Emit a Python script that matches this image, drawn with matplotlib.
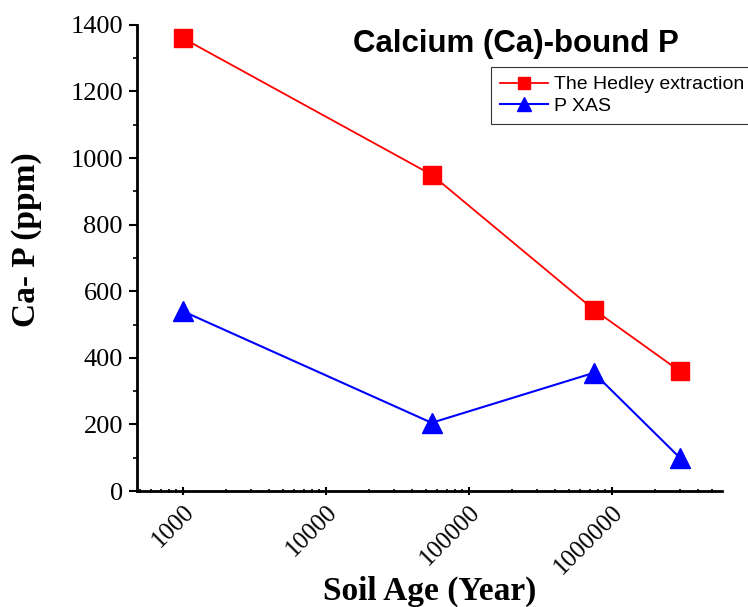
import matplotlib
matplotlib.use("Agg")
import matplotlib.pyplot as plt
from matplotlib.ticker import FixedLocator, LogLocator, MultipleLocator, NullFormatter

# soil ages (years) and Ca-bound P (ppm)
age = [1000, 55000, 750000, 3000000]
hedley = [1360, 950, 545, 360]
xas = [540, 205, 355, 100]
xtick_vals = [1000, 10000, 100000, 1000000]
xtick_labels = ["1000", "10000", "100000", "1000000"]

serif = ["Liberation Serif", "DejaVu Serif"]
sans = ["Liberation Sans", "DejaVu Sans"]

fig = plt.figure(figsize=(7.48, 6.07), dpi=100)
ax = fig.add_axes([0.183, 0.191, 0.782, 0.768])

ax.plot(age, hedley, color="red", lw=1.3, marker="s", ms=12.5, mec="red",
        label="The Hedley extraction")
ax.plot(age, xas, color="blue", lw=1.5, marker="^", ms=15, mec="blue",
        label="P XAS")

ax.set_xscale("log")
ax.set_xlim(476, 5.9e6)
ax.set_ylim(0, 1400)

ax.xaxis.set_major_locator(FixedLocator(xtick_vals))
ax.set_xticklabels(xtick_labels, rotation=45, ha="right", va="top",
                   rotation_mode="anchor", family=serif, fontsize=18)
ax.xaxis.set_minor_locator(LogLocator(base=10, subs=range(2, 10)))
ax.xaxis.set_minor_formatter(NullFormatter())
ax.yaxis.set_major_locator(MultipleLocator(200))
ax.yaxis.set_minor_locator(MultipleLocator(100))
for lab in ax.get_yticklabels():
    lab.set_family(serif)
    lab.set_fontsize(19)

ax.tick_params(axis="both", which="major", length=6, width=1.5, pad=4)
ax.tick_params(axis="both", which="minor", length=3, width=1.2)
ax.tick_params(axis="x", which="both", direction="inout")

for s in ["top", "right"]:
    ax.spines[s].set_visible(False)
for s in ["left", "bottom"]:
    ax.spines[s].set_linewidth(2)

ax.set_xlabel("Soil Age (Year)", family=serif, fontsize=24, fontweight="bold",
              labelpad=-2)
ax.set_ylabel("Ca- P (ppm)", family=serif, fontsize=24, fontweight="bold")
ax.yaxis.set_label_coords(-0.162, 0.54)

fig.text(0.69, 0.927, "Calcium (Ca)-bound P", family=sans, fontsize=22.5,
         fontweight="bold", ha="center", va="center")

leg = ax.legend(loc="upper left", bbox_to_anchor=(491 / 748, 1 - 67 / 607),
                bbox_transform=fig.transFigure, prop={"family": sans, "size": 14},
                frameon=True, fancybox=False, edgecolor="black",
                handlelength=2.5, handletextpad=0.3, borderpad=0.45,
                labelspacing=0.2, markerscale=0.7, borderaxespad=0)
leg.get_frame().set_linewidth(0.8)

fig.savefig("out.png", dpi=100)
